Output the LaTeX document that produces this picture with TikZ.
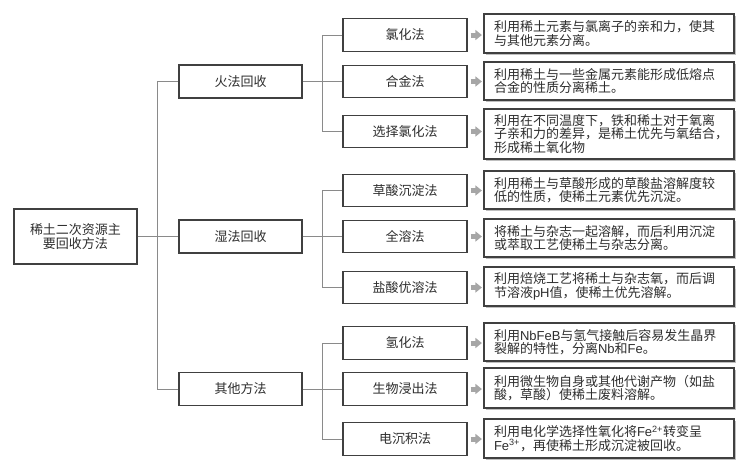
\documentclass[tikz,border=0pt]{standalone}
\usepackage{fontspec}
\setmainfont{Noto Sans CJK SC}
\newfontfamily\lat{Liberation Sans}
\usetikzlibrary{arrows.meta,shadows,calc}
\definecolor{boxline}{HTML}{404040}
\definecolor{conline}{HTML}{8A8A8A}
\definecolor{txt}{HTML}{2E2E2E}
\definecolor{arrowgray}{HTML}{A6A6A6}
\begin{document}
\begin{tikzpicture}[x=1pt,y=-1pt,
  every node/.style={font=\fontsize{13}{13.5}\selectfont, text=txt},
  catbox/.style={draw=boxline, line width=1.2pt, fill=white, inner sep=0pt, align=center},
  descbox/.style={draw=boxline, line width=1.2pt, fill=white, minimum width=250pt, text width=230pt, inner xsep=10pt, inner ysep=0pt, align=left,
     drop shadow={shadow xshift=1.5pt, shadow yshift=-1.5pt, fill=black!25, opacity=1}},
  conn/.style={draw=conline, line width=0.9pt},
  blockarrow/.style={draw=arrowgray, line width=5pt, -{Triangle[width=10pt,length=6.5pt]}, shorten <=3pt, shorten >=1.5pt}
]
\useasboundingbox (0,0) rectangle (750,475);

% root
\node[catbox, minimum width=123pt, minimum height=55pt] (root) at (75.5,236.5) {稀土二次资源主\\要回收方法};

% level 1
\node[catbox, minimum width=123pt, minimum height=33pt] (a) at (240.5,81.5) {火法回收};
\node[catbox, minimum width=123pt, minimum height=33pt] (b) at (240.5,236.5) {湿法回收};
\node[catbox, minimum width=123pt, minimum height=33pt] (c) at (240.5,389) {其他方法};

% level 2
\foreach \n/\y/\t in {a1/35/氯化法, a2/81.5/合金法, a3/131.5/选择氯化法,
                       b1/190.5/草酸沉淀法, b2/236.5/全溶法, b3/287.5/盐酸优溶法,
                       c1/343/氢化法, c2/389/生物浸出法, c3/439/电沉积法}
  \node[catbox, minimum width=124pt, minimum height=32.5pt] (\n) at (405,\y) {\t};

% descriptions
\node[descbox, minimum height=39pt] (d-a1) at (609,33.5) {利用稀土元素与氯离子的亲和力，使其\\与其他元素分离。};
\node[descbox, minimum height=38pt] (d-a2) at (609,81) {利用稀土与一些金属元素能形成低熔点\\合金的性质分离稀土。};
\node[descbox, minimum height=50pt] (d-a3) at (609,134) {利用在不同温度下，铁和稀土对于氧离\\子亲和力的差异，是稀土优先与氧结合，\\形成稀土氧化物};
\node[descbox, minimum height=38pt] (d-b1) at (609,190) {利用稀土与草酸形成的草酸盐溶解度较\\低的性质，使稀土元素优先沉淀。};
\node[descbox, minimum height=38pt] (d-b2) at (609,238) {将稀土与杂志一起溶解，而后利用沉淀\\或萃取工艺使稀土与杂志分离。};
\node[descbox, minimum height=39pt] (d-b3) at (609,286.5) {利用焙烧工艺将稀土与杂志氧，而后调\\节溶液{\lat pH}值，使稀土优先溶解。};
\node[descbox, minimum height=38pt] (d-c1) at (609,342) {利用{\lat NbFeB}与氢气接触后容易发生晶界\\裂解的特性，分离{\lat Nb}和{\lat Fe}。};
\node[descbox, minimum height=40pt] (d-c2) at (609,388) {利用微生物自身或其他代谢产物（如盐\\酸，草酸）使稀土废料溶解。};
\node[descbox, minimum height=39pt] (d-c3) at (609,438.5) {利用电化学选择性氧化将{\lat Fe\textsuperscript{2+}}转变呈\\{\lat Fe\textsuperscript{3+}}，再使稀土形成沉淀被回收。};

% connectors: root to level 1
\draw[conn] (root.east) -- (b.west);
\draw[conn] (a.west) -- ++(-21,0) |- (c.west);

% level 1 to level 2
\foreach \p in {a,b,c}{
  \draw[conn] (\p.east) -- (\p2.west);
  \draw[conn] (\p1.west) -- ++(-20,0) |- (\p3.west);
}

% block arrows
\foreach \n in {a1,a2,a3,b1,b2,b3,c1,c2,c3}
  \draw[blockarrow] (\n.east) -- (\n.east -| d-\n.west);
\end{tikzpicture}
\end{document}
